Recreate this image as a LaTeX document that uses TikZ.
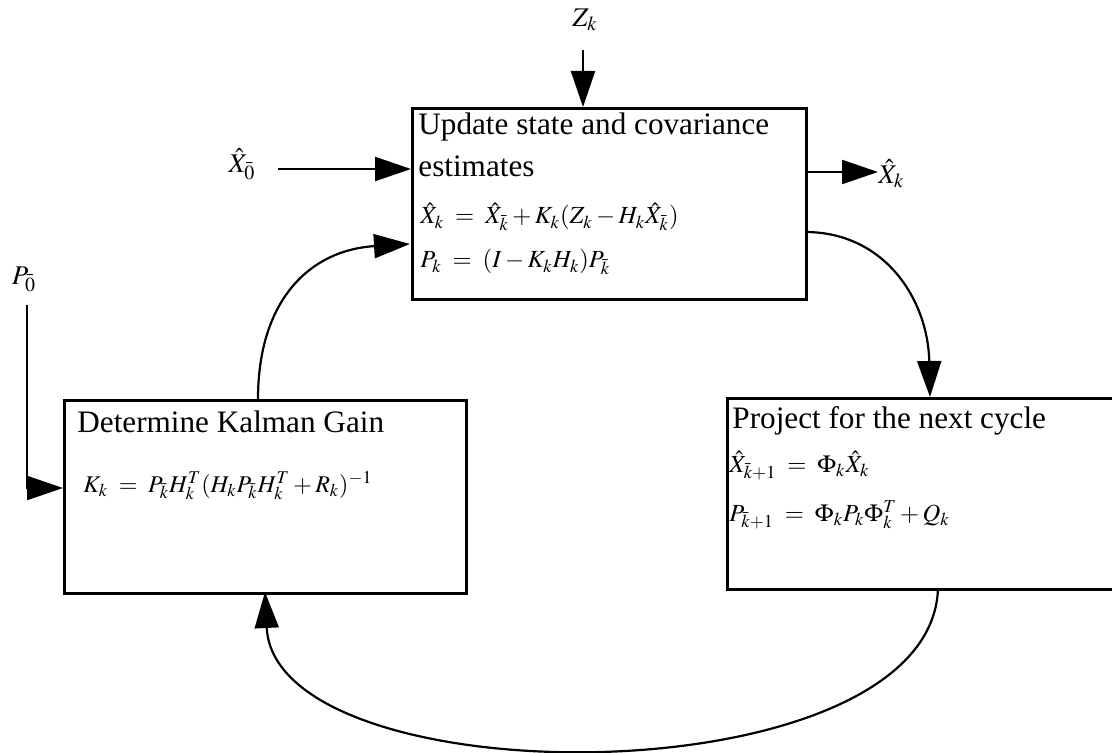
\documentclass[tikz,border=0pt]{standalone}
\usepackage{mathptmx}
\usepackage{fontspec}
\setmainfont{Liberation Serif}
\usetikzlibrary{arrows.meta}
\tikzset{
  box/.style={draw, line width=1.3pt, anchor=north west, inner sep=0pt},
  ttl/.style={anchor=base west, inner sep=0pt, font=\fontsize{15.6}{18}\selectfont},
  eqn/.style={anchor=base west, inner sep=0pt, font=\fontsize{12.3}{14}\selectfont},
  lbl/.style={inner sep=0pt, font=\fontsize{13.5}{15}\selectfont},
  arr/.style={line width=1.1pt, -{Triangle[length=18pt,width=12pt]}},
  con/.style={line width=1.1pt}
}
\begin{document}
\begin{tikzpicture}[x=0.5pt,y=-0.5pt]
\useasboundingbox (0,0) rectangle (1112,753);
% boxes
\node[box, minimum width=197pt, minimum height=95.5pt] (upd) at (411,107) {};
\node[box, minimum width=201pt, minimum height=96.5pt] (kal) at (63,399) {};
\node[box, minimum width=196pt, minimum height=95.5pt] (prj) at (726,397) {};
% texts in update box
\node[ttl] (u1) at (418,135) {Update state and covariance};
\node[ttl] (u2) at (418,177) {estimates};
\node[eqn] (u3) at (420,224) {$\hat{X}_k \;=\; \hat{X}_{\bar{k}} + K_k(Z_k - H_k\hat{X}_{\bar{k}})$};
\node[eqn] (u4) at (420,268) {$P_k \;=\; (I - K_kH_k)P_{\bar{k}}$};
% kalman
\node[ttl] (k1) at (77,432) {Determine Kalman Gain};
\node[eqn, font=\fontsize{12}{14}\selectfont] (k2) at (83,492) {$K_k \;=\; P_{\bar{k}}H_k^T(H_kP_{\bar{k}}H_k^T + R_k)^{-1}$};
% project
\node[ttl] (p1) at (732,428) {Project for the next cycle};
\node[eqn] (p2) at (729,472) {$\hat{X}_{\bar{k}+1} \;=\; \Phi_k\hat{X}_k$};
\node[eqn] (p3) at (729,521) {$P_{\bar{k}+1} \;=\; \Phi_kP_k\Phi_k^T + Q_k$};
% outside labels
\node[lbl] (zk) at (585,20) {$Z_k$};
\node[lbl] (x0) at (242,164) {$\hat{X}_{\bar{0}}$};
\node[lbl, anchor=west] (xk) at (878,174) {$\hat{X}_k$};
\node[lbl] (p0) at (24,279) {$P_{\bar{0}}$};
% connectors
\coordinate (zks) at (583,50);
\draw[arr] (zks) -- (upd.north -| zks);
\coordinate (x0s) at (278,169);
\draw[arr] (x0s) -- (upd.west |- x0s);
\coordinate (xks) at (805,172);
\draw[arr] (xks) -- (xk.west |- xks);
\coordinate (p0s) at (27,305);
\coordinate (p0c) at (27,488);
\draw[arr] (p0s) -- (p0c) -- (kal.west |- p0c);
\coordinate (kalup) at (258,399);
\coordinate (updin) at (410,244);
\draw[arr] (kalup) .. controls (258,300) and (310,250) .. (updin);
\coordinate (updout) at (805,232);
\coordinate (prjin) at (930,397);
\draw[arr] (updout) .. controls (885,232) and (928,300) .. (prjin);
\coordinate (prjout) at (938,588);
\coordinate (kalin) at (265,592);
\draw[arr] (prjout) .. controls (932,800) and (275,800) .. (kalin);
\end{tikzpicture}
\end{document}
